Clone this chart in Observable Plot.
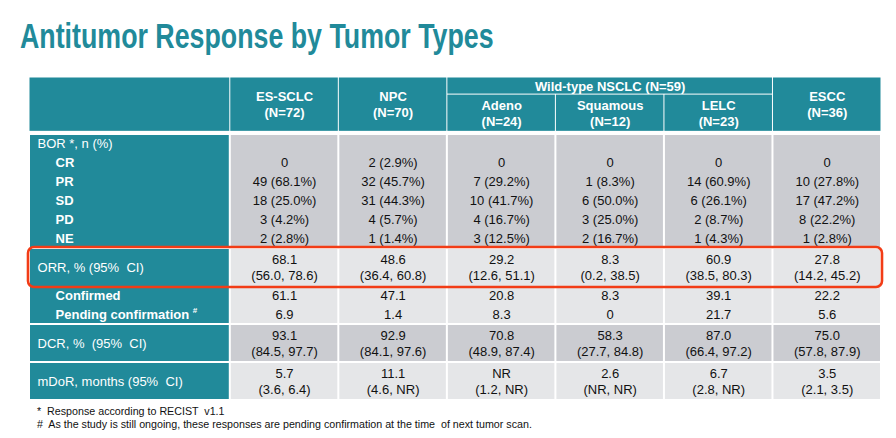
<!DOCTYPE html>
<html><head><meta charset="utf-8">
<script src="https://cdn.jsdelivr.net/npm/d3@7"></script>
<script src="https://cdn.jsdelivr.net/npm/@observablehq/plot@0.6"></script>
<style>
body{margin:0;background:#fff;font-family:"Liberation Sans",Arial,sans-serif;width:896px;height:438px;overflow:hidden}
#title{height:70px;box-sizing:border-box;padding-top:18px;padding-left:20px;}
#title span{display:inline-block;font-size:35px;line-height:35px;font-weight:bold;color:#218a9a;transform:scaleX(0.765);transform-origin:left center;white-space:nowrap}
#chart svg text{white-space:pre}
#chart svg{display:block}
#notes{padding-left:37px;font-size:10.7px;line-height:13px;color:#111;white-space:pre}
</style></head>
<body>
<div id="title"><span></span></div>
<div id="chart"></div>
<div id="notes"></div>
<script>
// ---------- data ----------
const titleText = "Antitumor Response by Tumor Types";
const groups = ["ES-SCLC", "NPC", "Adeno", "Squamous", "LELC", "ESCC"];
const groupN = ["(N=72)", "(N=70)", "(N=24)", "(N=12)", "(N=23)", "(N=36)"];
const superGroup = "Wild-type NSCLC (N=59)";
const superMembers = ["Adeno", "Squamous", "LELC"];

const borHeader = "BOR *, n (%)";
const borLabels = ["CR", "PR", "SD", "PD", "NE"];
const borCR = ["0", "2 (2.9%)", "0", "0", "0", "0"];
const borPR = ["49 (68.1%)", "32 (45.7%)", "7 (29.2%)", "1 (8.3%)", "14 (60.9%)", "10 (27.8%)"];
const borSD = ["18 (25.0%)", "31 (44.3%)", "10 (41.7%)", "6 (50.0%)", "6 (26.1%)", "17 (47.2%)"];
const borPD = ["3 (4.2%)", "4 (5.7%)", "4 (16.7%)", "3 (25.0%)", "2 (8.7%)", "8 (22.2%)"];
const borNE = ["2 (2.8%)", "1 (1.4%)", "3 (12.5%)", "2 (16.7%)", "1 (4.3%)", "1 (2.8%)"];

const orrLabel = "ORR, % (95%  CI)";
const orrValue = ["68.1", "48.6", "29.2", "8.3", "60.9", "27.8"];
const orrCI = ["(56.0, 78.6)", "(36.4, 60.8)", "(12.6, 51.1)", "(0.2, 38.5)", "(38.5, 80.3)", "(14.2, 45.2)"];
const confirmedLabel = "Confirmed";
const confirmed = ["61.1", "47.1", "20.8", "8.3", "39.1", "22.2"];
const pendingLabel = "Pending confirmation";
const pending = ["6.9", "1.4", "8.3", "0", "21.7", "5.6"];

const dcrLabel = "DCR, %  (95%  CI)";
const dcrValue = ["93.1", "92.9", "70.8", "58.3", "87.0", "75.0"];
const dcrCI = ["(84.5, 97.7)", "(84.1, 97.6)", "(48.9, 87.4)", "(27.7, 84.8)", "(66.4, 97.2)", "(57.8, 87.9)"];

const dorLabel = "mDoR, months (95%  CI)";
const dorValue = ["5.7", "11.1", "NR", "2.6", "6.7", "3.5"];
const dorCI = ["(3.6, 6.4)", "(4.6, NR)", "(1.2, NR)", "(NR, NR)", "(2.8, NR)", "(2.1, 3.5)"];

const footnotes = [
  "*  Response according to RECIST  v1.1",
  "#  As the study is still ongoing, these responses are pending confirmation at the time  of next tumor scan."
];

// ---------- styling / layout (table units) ----------
const TEAL = "#218a9a", GRAY = "#cbccd1", LIGHT = "#e5e6e8", RED = "#f23c16";
const LW = 1.85;              // label column width (in data-column units)
const HEAD = 2.86;            // header height (in text-line units)
const SUPER = 0.9;            // height of spanning header row
const cx = i => LW + i + 0.5; // center of data column i
const half = 0.42;            // half spacing of two-line cells

document.querySelector("#title span").textContent = titleText;
document.getElementById("notes").textContent = footnotes.join("\n");

// header cells
const headCells = [{x1: 0, x2: LW, y1: 0, y2: HEAD}];
const sIdx = superMembers.map(m => groups.indexOf(m));
groups.forEach((g, i) => {
  if (sIdx.includes(i)) headCells.push({x1: LW + i, x2: LW + i + 1, y1: SUPER, y2: HEAD});
  else headCells.push({x1: LW + i, x2: LW + i + 1, y1: 0, y2: HEAD});
});
headCells.push({x1: LW + d3.min(sIdx), x2: LW + d3.max(sIdx) + 1, y1: 0, y2: SUPER});

// body blocks
const blocks = [
  {y1: 3, y2: 9, fill: GRAY},
  {y1: 9, y2: 13, fill: LIGHT},
  {y1: 13, y2: 15, fill: GRAY},
  {y1: 15, y2: 17, fill: LIGHT}
];
const bodyCells = [];
blocks.forEach(b => {
  bodyCells.push({x1: 0, x2: LW, y1: b.y1, y2: b.y2, fill: TEAL});
  groups.forEach((g, i) => bodyCells.push({x1: LW + i, x2: LW + i + 1, y1: b.y1, y2: b.y2, fill: b.fill}));
});

// header text
const headText = [];
groups.forEach((g, i) => {
  const c = sIdx.includes(i) ? (SUPER + HEAD) / 2 + 0.05 : HEAD / 2;
  headText.push({x: cx(i), y: c - half, t: g});
  headText.push({x: cx(i), y: c + half, t: groupN[i]});
});
headText.push({x: LW + (d3.min(sIdx) + d3.max(sIdx) + 1) / 2, y: SUPER / 2 + 0.05, t: superGroup});

// label text
const X0 = 0.074, X1 = 0.24;
const labelReg = [
  {x: X0, y: 3.5, t: borHeader},
  {x: X0, y: 10, t: orrLabel},
  {x: X0, y: 14, t: dcrLabel},
  {x: X0, y: 16, t: dorLabel}
];
const labelBold = borLabels.map((l, k) => ({x: X1, y: 4.5 + k, t: l}))
  .concat([{x: X1, y: 11.5, t: confirmedLabel}, {x: X1, y: 12.5, t: pendingLabel}]);

// data text
const dataText = [];
[borCR, borPR, borSD, borPD, borNE].forEach((row, k) => row.forEach((v, i) => dataText.push({x: cx(i), y: 4.5 + k, t: v})));
groups.forEach((g, i) => {
  dataText.push({x: cx(i), y: 10 - half, t: orrValue[i]}, {x: cx(i), y: 10 + half, t: orrCI[i]});
  dataText.push({x: cx(i), y: 11.5, t: confirmed[i]}, {x: cx(i), y: 12.5, t: pending[i]});
  dataText.push({x: cx(i), y: 14 - half, t: dcrValue[i]}, {x: cx(i), y: 14 + half, t: dcrCI[i]});
  dataText.push({x: cx(i), y: 16 - half, t: dorValue[i]}, {x: cx(i), y: 16 + half, t: dorCI[i]});
});

// superscript offset for "#"
const ctx = document.createElement("canvas").getContext("2d");
ctx.font = "bold 13px 'Liberation Sans', Arial";
const pendW = ctx.measureText(pendingLabel + " ").width;

const FONT = "'Liberation Sans', Arial, sans-serif";
const chart = Plot.plot({
  width: 896, height: 335,
  marginLeft: 29, marginRight: 15, marginTop: 7, marginBottom: 5,
  x: {domain: [0, LW + groups.length], axis: null},
  y: {domain: [0, 17], axis: null, reverse: true},
  color: {type: "identity"},
  style: {fontFamily: FONT, background: "white"},
  marks: [
    Plot.rect(headCells, {x1: "x1", x2: "x2", y1: "y1", y2: "y2", fill: TEAL, inset: 0.5}),
    Plot.rect(bodyCells, {x1: "x1", x2: "x2", y1: "y1", y2: "y2", fill: "fill", inset: 1}),
    Plot.text(headText, {x: "x", y: "y", text: "t", fill: "white", fontWeight: "bold", fontSize: 13}),
    Plot.text(labelReg, {x: "x", y: "y", text: "t", fill: "white", fontSize: 13, textAnchor: "start"}),
    Plot.text(labelBold, {x: "x", y: "y", text: "t", fill: "white", fontSize: 13, fontWeight: "bold", textAnchor: "start"}),
    Plot.text([{x: X1, y: 12.5, t: "#"}], {x: "x", y: "y", text: "t", fill: "white", fontSize: 8, fontWeight: "bold", textAnchor: "start", dx: pendW, dy: -5}),
    Plot.text(dataText, {x: "x", y: "y", text: "t", fill: "#111", fontSize: 13}),
    Plot.rect([{x1: 0, x2: LW + groups.length, y1: 9, y2: 11}], {x1: "x1", x2: "x2", y1: "y1", y2: "y2", fill: "none", stroke: RED, strokeWidth: 2.6, rx: 6, inset: -1})
  ]
});
document.getElementById("chart").appendChild(chart);
</script>
</body></html>
